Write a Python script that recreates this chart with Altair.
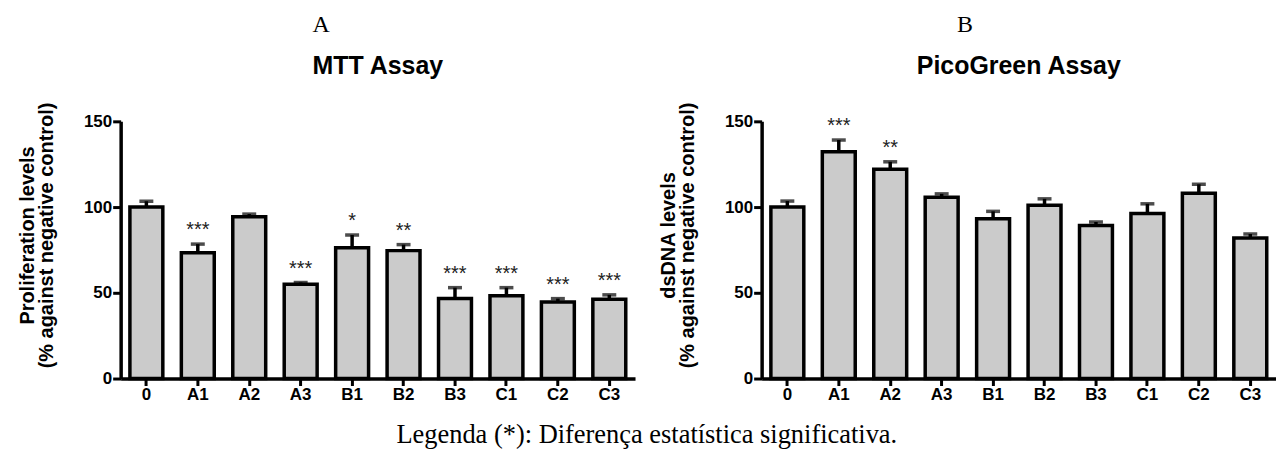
import altair as alt
import pandas as pd

categories = ["0", "A1", "A2", "A3", "B1", "B2", "B3", "C1", "C2", "C3"]

mtt_mean = [100.0, 73.4, 94.3, 55.0, 76.3, 74.6, 46.7, 48.3, 44.6, 46.3]
mtt_err = [3.4, 5.0, 1.6, 1.0, 7.4, 3.5, 6.3, 4.7, 2.0, 2.5]
mtt_sig = ["", "***", "", "***", "*", "**", "***", "***", "***", "***"]

pico_mean = [100.0, 132.2, 122.0, 105.7, 93.2, 101.1, 89.2, 96.3, 108.0, 82.0]
pico_err = [3.5, 6.9, 4.4, 2.0, 4.3, 3.7, 2.1, 5.6, 5.3, 2.3]
pico_sig = ["", "***", "**", "", "", "", "", "", "", ""]

y_ticks = [0, 50, 100, 150]

SANS = "Liberation Sans, Arial, Helvetica, sans-serif"
SERIF = "Liberation Serif, Times New Roman, serif"

W = 516
H = 258


def panel(means, errs, sigs, ytitle, title, letter, letter_x):
    df = pd.DataFrame({
        "cat": categories,
        "mean": means,
        "top": [m + e for m, e in zip(means, errs)],
        "sig": sigs,
    })
    x = alt.X(
        "cat:N",
        sort=categories,
        scale=alt.Scale(paddingInner=0.36, paddingOuter=0.18),
        axis=alt.Axis(
            title=None, labelAngle=0, labelFont=SANS, labelFontWeight="bold",
            labelFontSize=17, labelColor="black", domainColor="black",
            domainWidth=3.5, tickColor="black", tickWidth=3, tickSize=7,
            labelPadding=1,
        ),
    )
    y = alt.Y(
        "mean:Q",
        scale=alt.Scale(domain=[0, 150], nice=False, zero=True),
        axis=alt.Axis(
            values=y_ticks, grid=False, title=ytitle, titleFont=SANS,
            titleFontSize=20, titleFontWeight="bold", titleColor="black",
            titleLineHeight=19, titlePadding=27, titleY=114,
            labelFont=SANS, labelFontWeight="bold", labelFontSize=17,
            labelColor="black", labelPadding=1, domainColor="black",
            domainWidth=3.5, tickColor="black", tickWidth=3, tickSize=8,
        ),
    )
    base = alt.Chart(df)
    bars = base.mark_bar(fill="#cbcbcb", stroke="black", strokeWidth=3.5).encode(x=x, y=y)
    err = base.mark_rule(color="black", strokeWidth=3.5).encode(
        x=alt.X("cat:N", sort=categories), y="mean:Q", y2="top:Q")
    cap = base.mark_tick(color="black", size=14, thickness=3.5, orient="horizontal").encode(
        x=alt.X("cat:N", sort=categories), y="top:Q")
    stars = base.mark_text(baseline="alphabetic", dy=-8, fontSize=20, font=SANS,
                           color="#222222").encode(
        x=alt.X("cat:N", sort=categories), y="top:Q", text="sig:N")
    txt = pd.DataFrame({"t": [letter], "h": [title]})
    let = alt.Chart(txt).mark_text(
        font=SERIF, fontSize=24, color="black", baseline="middle", align="center"
    ).encode(x=alt.value(letter_x), y=alt.value(-97), text="t:N")
    ttl = alt.Chart(txt).mark_text(
        font=SANS, fontSize=25, fontWeight="bold", color="black",
        baseline="middle", align="center"
    ).encode(x=alt.value(W / 2), y=alt.value(-55), text="h:N")
    return alt.layer(bars, err, cap, stars, let, ttl).properties(width=W, height=H)


pa = panel(mtt_mean, mtt_err, mtt_sig,
           ["Proliferation levels", "(% against negative control)"],
           "MTT Assay", "A", 201)
pb = panel(pico_mean, pico_err, pico_sig,
           ["dsDNA levels", "(% against negative control)"],
           "PicoGreen Assay", "B", 204)

chart = alt.hconcat(pa, pb, spacing=23).properties(
    title=alt.TitleParams("Legenda (*): Diferença estatística significativa.",
                          orient="bottom", anchor="middle", font=SERIF,
                          fontSize=26.5, fontWeight="normal", color="black",
                          offset=20),
    padding={"left": 9, "top": 4, "right": 0, "bottom": 0},
    background="white",
).configure_view(stroke=None)

chart.save("out.html", embed_options={"renderer": "svg", "actions": False})
